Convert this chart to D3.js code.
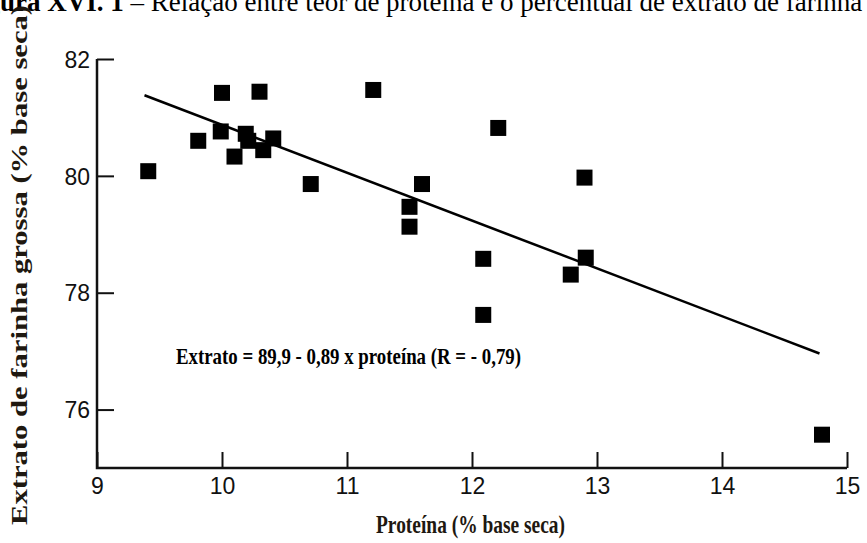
<!DOCTYPE html>
<html>
<head>
<meta charset="utf-8">
<script src="https://cdn.jsdelivr.net/npm/d3@7"></script>
<style>
	body { margin: 0; background: #fff; }
	svg { display: block; }
</style>
</head>
<body>
<div id="main"></div>
<script>
var proteina = [9.41, 9.81, 10.0, 9.99, 10.1, 10.19, 10.21, 10.3, 10.33, 10.41, 10.71, 11.21, 11.5, 11.5, 11.6, 12.09, 12.09, 12.21, 12.79, 12.9, 12.91, 14.8];
var extrato = [80.08, 80.6, 81.42, 80.76, 80.33, 80.72, 80.6, 81.44, 80.44, 80.64, 79.86, 81.47, 79.47, 79.13, 79.86, 78.58, 77.62, 80.82, 78.31, 79.97, 78.6, 75.57];
var lineX = [9.38, 14.78];
var lineY = [81.38, 76.96];
var xTicks = [9, 10, 11, 12, 13, 14, 15];
var yTicks = [76, 78, 80, 82];

var width = 867, height = 543;
var svg = d3.select("#main").append("svg").attr("width", width).attr("height", height);

var x = d3.scaleLinear().domain([9, 15]).range([97, 847]);
var y = d3.scaleLinear().domain([75, 82]).range([468, 59]);

// caption, cut off at the top/left like the scan
var cap = svg.append("text")
	.attr("y", 11)
	.attr("font-family", "Liberation Serif, serif")
	.attr("font-size", 27)
	.attr("fill", "#000");
cap.append("tspan").attr("font-weight", "bold").text("Figura XVI. 1");
cap.append("tspan").text(" \u2013  Relação entre teor de proteína e o percentual de extrato de farinha grossa");
var probe = svg.append("text")
	.attr("font-family", "Liberation Serif, serif")
	.attr("font-size", 27)
	.attr("font-weight", "bold")
	.text("Fig");
cap.attr("x", -probe.node().getComputedTextLength());
probe.remove();

var axisColor = "#111";

// axes
var xAxis = d3.axisBottom(x).tickValues(xTicks).tickFormat(d3.format("d")).tickSize(-16).tickPadding(26).tickSizeOuter(0);
var yAxis = d3.axisLeft(y).tickValues(yTicks).tickFormat(d3.format("d")).tickSize(-17).tickPadding(7).tickSizeOuter(0);

var gx = svg.append("g").attr("transform", "translate(0," + y(75) + ")").call(xAxis);
var gy = svg.append("g").attr("transform", "translate(" + x(9) + ",0)").call(yAxis);

[gx, gy].forEach(function(g){
	g.select(".domain").remove();
	g.selectAll("line").attr("stroke", axisColor).attr("stroke-width", 2);
	g.selectAll("text")
		.attr("font-family", "Liberation Sans, Arial, sans-serif")
		.attr("font-size", 23)
		.attr("fill", axisColor);
});
gx.selectAll("text").attr("dy", 0);
gy.selectAll("text").attr("dy", "0.36em");

svg.append("path")
	.attr("d", "M" + x(9) + "," + y(82) + "V" + y(75) + "H" + x(15))
	.attr("fill", "none")
	.attr("stroke", axisColor)
	.attr("stroke-width", 2.5);

// regression line
svg.append("line")
	.attr("x1", x(lineX[0])).attr("y1", y(lineY[0]))
	.attr("x2", x(lineX[1])).attr("y2", y(lineY[1]))
	.attr("stroke", "#000")
	.attr("stroke-width", 2.5);

// points
var sq = 16;
svg.selectAll("rect.pt").data(d3.range(proteina.length))
	.enter()
	.append("rect")
	.attr("class", "pt")
	.attr("x", function(i) { return x(proteina[i]) - sq / 2; })
	.attr("y", function(i) { return y(extrato[i]) - sq / 2; })
	.attr("width", sq)
	.attr("height", sq)
	.attr("fill", "#000");

// equation
svg.append("text")
	.attr("x", 176)
	.attr("y", 364)
	.attr("font-family", "Liberation Serif, serif")
	.attr("font-weight", "bold")
	.attr("font-size", 23)
	.attr("textLength", 345)
	.attr("lengthAdjust", "spacingAndGlyphs")
	.attr("fill", "#000")
	.text("Extrato = 89,9 - 0,89 x proteína (R = - 0,79)");

// axis titles
svg.append("text")
	.attr("x", 376)
	.attr("y", 533)
	.attr("font-family", "Liberation Serif, serif")
	.attr("font-weight", "bold")
	.attr("font-size", 26)
	.attr("textLength", 189)
	.attr("lengthAdjust", "spacingAndGlyphs")
	.attr("fill", "#1e1810")
	.text("Proteína (% base seca)");

svg.append("text")
	.attr("transform", "translate(27,525) rotate(-90)")
	.attr("font-family", "Liberation Serif, serif")
	.attr("font-weight", "bold")
	.attr("font-size", 23)
	.attr("textLength", 520)
	.attr("lengthAdjust", "spacingAndGlyphs")
	.attr("fill", "#1e1810")
	.text("Extrato de farinha grossa (% base seca)");
</script>
</body>
</html>
